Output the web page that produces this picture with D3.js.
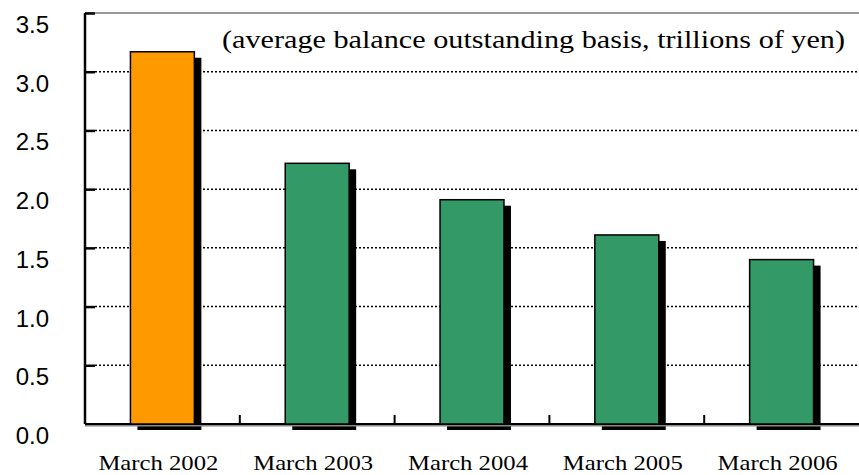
<!DOCTYPE html>
<html>
<head>
<meta charset="utf-8">
<script src="https://d3js.org/d3.v7.min.js"></script>
<style>
  body { margin: 0; background: #fff; }
</style>
</head>
<body>
<div id="chart"></div>
<script>
// data
var categories = ["March 2002", "March 2003", "March 2004", "March 2005", "March 2006"];
var values = [3.17, 2.22, 1.91, 1.61, 1.40];
var barColors = ["#ff9900", "#339966", "#339966", "#339966", "#339966"];
var yTicks = [0, 0.5, 1.0, 1.5, 2.0, 2.5, 3.0, 3.5];
var note = "(average balance outstanding basis, trillions of yen)";

var W = 859, H = 475;
var mLeft = 85, mRight = 859, mTop = 13, mBottom = 424;

var svg = d3.select("#chart").append("svg")
    .attr("width", W)
    .attr("height", H);

var x = d3.scaleBand()
    .domain(categories)
    .range([mLeft, mRight])
    .paddingInner(0.587)
    .paddingOuter(0.2935);

var band = d3.scaleBand().domain(categories).range([mLeft, mRight]);

var y = d3.scaleLinear()
    .domain([0, 3.5])
    .range([mBottom, mTop]);

// gridlines
svg.selectAll("line.grid")
    .data(yTicks.filter(function (d) { return d > 0 && d < 3.5; }))
    .enter()
    .append("line")
    .attr("class", "grid")
    .attr("x1", mLeft + 10)
    .attr("x2", mRight)
    .attr("y1", function (d) { return y(d); })
    .attr("y2", function (d) { return y(d); })
    .attr("stroke", "#000")
    .attr("stroke-width", 1.5)
    .attr("stroke-dasharray", "2,2");

// top border
svg.append("line")
    .attr("x1", mLeft).attr("x2", mRight)
    .attr("y1", y(3.5)).attr("y2", y(3.5))
    .attr("stroke", "#999")
    .attr("stroke-width", 2);

// y axis
var yAxis = d3.axisRight(y)
    .tickValues(yTicks)
    .tickSize(10)
    .tickFormat("");
var ya = svg.append("g")
    .attr("transform", "translate(" + mLeft + ",0)")
    .call(yAxis);
ya.select(".domain").attr("stroke-width", 2.5).attr("d", "M0," + y(3.5) + "V" + y(0));
ya.selectAll(".tick line").attr("stroke-width", 2.5);

// y labels
svg.selectAll("text.ylab")
    .data(yTicks)
    .enter()
    .append("text")
    .attr("class", "ylab")
    .attr("x", 49)
    .attr("y", function (d) { return y(d) + 20; })
    .attr("text-anchor", "end")
    .attr("font-family", "Liberation Sans, Arial, sans-serif")
    .attr("font-size", 24)
    .text(function (d) { return d.toFixed(1); });

// bar shadows
svg.selectAll("rect.shadow")
    .data(values)
    .enter()
    .append("rect")
    .attr("class", "shadow")
    .attr("x", function (d, i) { return x(categories[i]) + 7; })
    .attr("y", function (d) { return y(d) + 6; })
    .attr("width", x.bandwidth())
    .attr("height", function (d) { return y(0) - y(d); })
    .attr("fill", "#000");

// x axis baseline
svg.append("line")
    .attr("x1", mLeft).attr("x2", mRight)
    .attr("y1", y(0) + 1).attr("y2", y(0) + 1)
    .attr("stroke", "#888")
    .attr("stroke-width", 3);
svg.append("line")
    .attr("x1", mLeft).attr("x2", mRight)
    .attr("y1", y(0)).attr("y2", y(0))
    .attr("stroke", "#000")
    .attr("stroke-width", 2);

// category separator ticks
svg.selectAll("line.xtick")
    .data(categories.slice(1))
    .enter()
    .append("line")
    .attr("class", "xtick")
    .attr("x1", function (d) { return band(d); })
    .attr("x2", function (d) { return band(d); })
    .attr("y1", y(0) - 9)
    .attr("y2", y(0))
    .attr("stroke", "#000")
    .attr("stroke-width", 2);

// bars
svg.selectAll("rect.bar")
    .data(values)
    .enter()
    .append("rect")
    .attr("class", "bar")
    .attr("x", function (d, i) { return x(categories[i]); })
    .attr("y", function (d) { return y(d); })
    .attr("width", x.bandwidth())
    .attr("height", function (d) { return y(0) - y(d); })
    .attr("fill", function (d, i) { return barColors[i]; })
    .attr("stroke", "#000")
    .attr("stroke-width", 1.5);

// x labels
svg.selectAll("text.xlab")
    .data(categories)
    .enter()
    .append("text")
    .attr("class", "xlab")
    .attr("x", function (d) { return band(d) + band.bandwidth() / 2 - 4; })
    .attr("y", 470)
    .attr("text-anchor", "middle")
    .attr("font-family", "Liberation Serif, Times New Roman, serif")
    .attr("font-size", 22)
    .attr("textLength", 120)
    .attr("lengthAdjust", "spacingAndGlyphs")
    .text(function (d) { return d; });

// note
svg.append("text")
    .attr("x", 222)
    .attr("y", 48)
    .attr("font-family", "Liberation Serif, Times New Roman, serif")
    .attr("font-size", 26)
    .attr("textLength", 623)
    .attr("lengthAdjust", "spacingAndGlyphs")
    .text(note);
</script>
</body>
</html>
